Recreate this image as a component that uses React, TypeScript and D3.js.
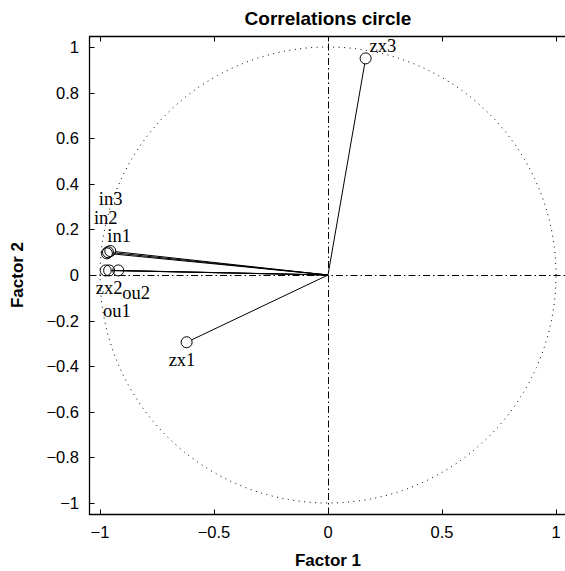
import React from "react";
import * as d3 from "d3";

// Variable loadings on the first two factors
const variables = ["zx1", "zx2", "zx3", "in1", "in2", "in3", "ou1", "ou2"];
const factor1 = [-0.62, -0.975, 0.165, -0.955, -0.965, -0.97, -0.96, -0.92];
const factor2 = [-0.295, 0.02, 0.95, 0.105, 0.1, 0.095, 0.02, 0.02];

// Label placement (pixel offsets from each marker)
const labelDx = [-18, -10, 4, -3, -14, -8, -6, 4];
const labelDy = [24, 24, -6, -9, -28, -48, 47, 29];

const xTicks = [-1, -0.5, 0, 0.5, 1];
const yTicks = [-1, -0.8, -0.6, -0.4, -0.2, 0, 0.2, 0.4, 0.6, 0.8, 1];

const W = 565;
const H = 571;

export default function App() {
  const x = d3.scaleLinear().domain([-1.05, 1.05]).range([88.6, 567.4]);
  const y = d3.scaleLinear().domain([-1.05, 1.05]).range([514.4, 35.6]);
  const sans = "'Liberation Sans', Arial, Helvetica, sans-serif";
  const serif = "'Liberation Serif', 'Times New Roman', serif";
  const r = 5.5;
  const tickLen = 5;
  const fmt = (v: number) => (v === 0 ? "0" : String(v).replace("-", "\u2212"));
  const snap = (v: number) => Math.round(v) + 0.5;

  const circlePts = d3.range(0, 361, 1).map((a) => {
    const t = (a * Math.PI) / 180;
    return [x(Math.cos(t)), y(Math.sin(t))] as [number, number];
  });
  const circlePath = d3.line()(circlePts) || "";

  const x0 = x(0);
  const y0 = y(0);
  const left = snap(x(-1.05));
  const top = snap(y(1.05));
  const bottom = snap(y(-1.05));

  return (
    <svg
      width={W}
      height={H}
      style={{ position: "absolute", left: 0, top: 0, background: "#fff" }}
    >
      <defs>
        <clipPath id="plotClip">
          <rect x={x(-1.05)} y={y(1.05)} width={x(1.05) - x(-1.05)} height={y(-1.05) - y(1.05)} />
        </clipPath>
      </defs>

      {/* unit circle */}
      <path d={circlePath} fill="none" stroke="#000" strokeWidth={1} strokeDasharray="1,4.5" />

      {/* axes through the origin */}
      <line x1={left} x2={x(1.05)} y1={snap(y0)} y2={snap(y0)} stroke="#000" strokeWidth={1} strokeDasharray="7,3,1.5,3" />
      <line x1={snap(x0)} x2={snap(x0)} y1={bottom} y2={top} stroke="#000" strokeWidth={1} strokeDasharray="7,3,1.5,3" />

      {/* loading vectors */}
      <g clipPath="url(#plotClip)">
        {variables.map((v, i) => {
          const px = x(factor1[i]);
          const py = y(factor2[i]);
          const len = Math.hypot(px - x0, py - y0);
          const ex = px - ((px - x0) / len) * r;
          const ey = py - ((py - y0) / len) * r;
          return <line key={"l" + v} x1={x0} y1={y0} x2={ex} y2={ey} stroke="#000" strokeWidth={1} />;
        })}
        {variables.map((v, i) => (
          <circle key={"c" + v} cx={x(factor1[i])} cy={y(factor2[i])} r={r} fill="none" stroke="#000" strokeWidth={1} />
        ))}
      </g>

      {variables.map((v, i) => (
        <text
          key={"t" + v}
          x={x(factor1[i]) + labelDx[i]}
          y={y(factor2[i]) + labelDy[i]}
          fontFamily={serif}
          fontSize={18.5}
          fill="#000"
        >
          {v}
        </text>
      ))}

      {/* frame */}
      <path
        d={`M${x(1.05)},${top} H${left} V${bottom} H${x(1.05)}`}
        fill="none"
        stroke="#000"
        strokeWidth={1.3}
      />

      {/* ticks */}
      {xTicks.map((t) => (
        <g key={"xt" + t}>
          <line x1={snap(x(t))} x2={snap(x(t))} y1={bottom} y2={bottom - tickLen} stroke="#000" />
          <line x1={snap(x(t))} x2={snap(x(t))} y1={top} y2={top + tickLen} stroke="#000" />
          <text x={x(t)} y={538} textAnchor="middle" fontFamily={sans} fontSize={16.5} fill="#000">
            {fmt(t)}
          </text>
        </g>
      ))}
      {yTicks.map((t) => (
        <g key={"yt" + t}>
          <line x1={left} x2={left + tickLen} y1={snap(y(t))} y2={snap(y(t))} stroke="#000" />
          <text x={79} y={y(t) + 6} textAnchor="end" fontFamily={sans} fontSize={16.5} fill="#000">
            {fmt(Math.round(t * 10) / 10)}
          </text>
        </g>
      ))}

      {/* titles */}
      <text x={328} y={25} textAnchor="middle" fontFamily={sans} fontWeight="bold" fontSize={19} fill="#000">
        Correlations circle
      </text>
      <text x={328} y={566} textAnchor="middle" fontFamily={sans} fontWeight="bold" fontSize={17} fill="#000">
        Factor 1
      </text>
      <text
        transform={`translate(23,${y0}) rotate(-90)`}
        textAnchor="middle"
        fontFamily={sans}
        fontWeight="bold"
        fontSize={17}
        fill="#000"
      >
        Factor 2
      </text>
    </svg>
  );
}
